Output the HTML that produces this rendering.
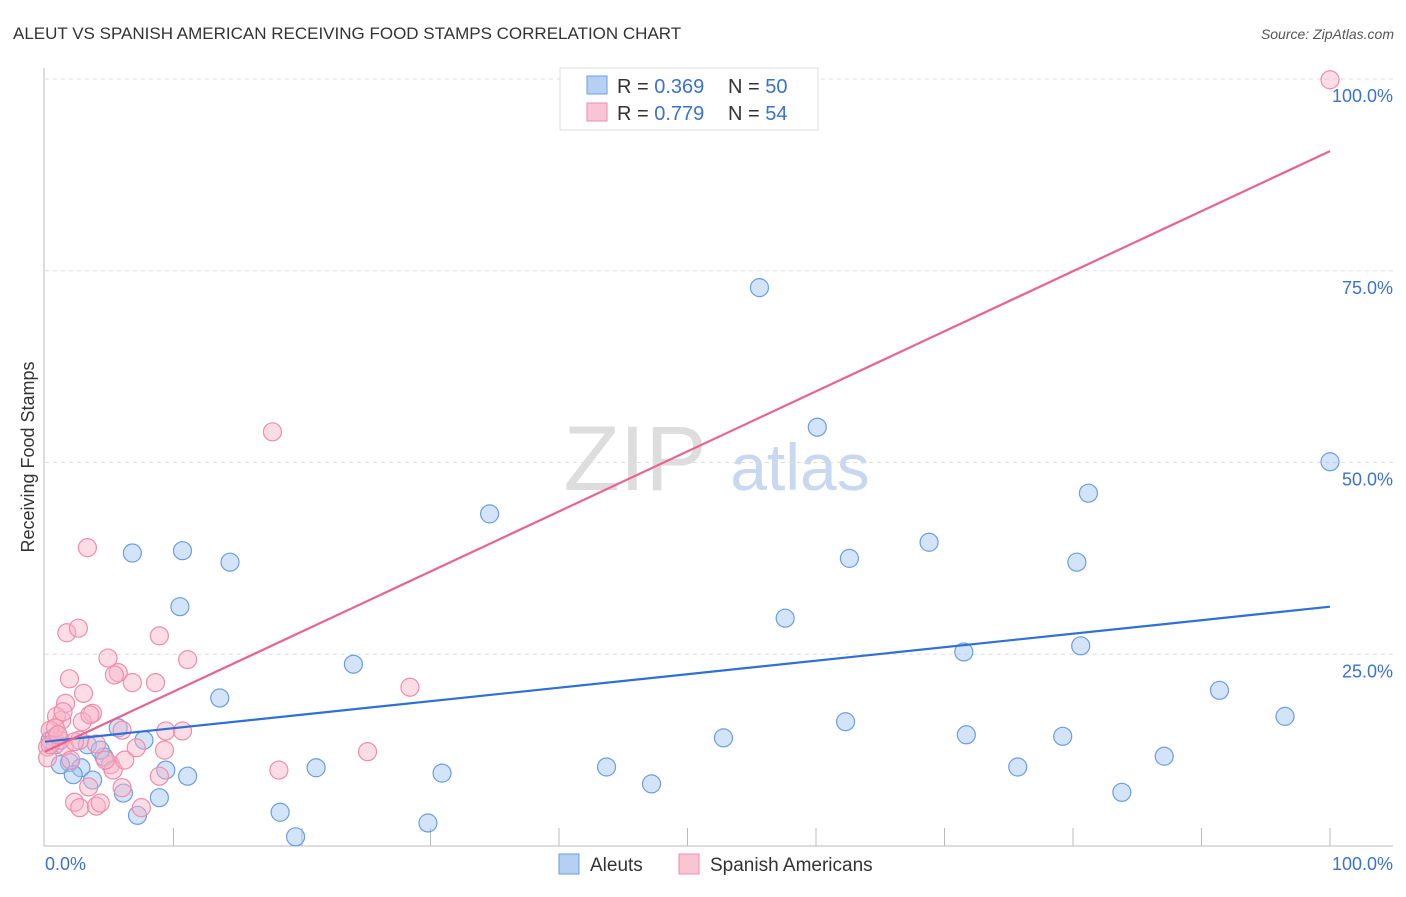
<!DOCTYPE html>
<html><head><meta charset="utf-8"><style>
body{margin:0;background:#fff;font-family:"Liberation Sans",sans-serif}
svg text{font-family:"Liberation Sans",sans-serif}
</style></head><body>
<svg id="c" width="1406" height="892">
<text x="13" y="39" font-size="17" fill="#333">ALEUT VS SPANISH AMERICAN RECEIVING FOOD STAMPS CORRELATION CHART</text>
<text x="1394" y="39" font-size="14" fill="#555" text-anchor="end" font-style="italic">Source: ZipAtlas.com</text>
<text x="0" y="0" font-size="18" fill="#333" transform="translate(34,457) rotate(-90)" text-anchor="middle">Receiving Food Stamps</text>
<text x="635" y="490" font-size="92" fill="#ddd" font-family="Liberation Serif" text-anchor="middle">ZIP</text>
<text x="800" y="490" font-size="66" fill="#c8d8f0" text-anchor="middle">atlas</text>
<g id="grid"></g><g id="marks"></g><g id="lines"></g>
<g>
<rect x="560" y="68" width="258" height="62" fill="#fff" stroke="#ddd"/>
<rect x="587" y="76" width="20" height="18" fill="#b6d0f4" stroke="#6a9ee0"/>
<rect x="587" y="103" width="20" height="18" fill="#f9c4d4" stroke="#f08cac"/>
<text x="617" y="93" font-size="20" fill="#333">R = <tspan fill="#3a72d0">0.369</tspan></text>
<text x="728" y="93" font-size="20" fill="#333">N = <tspan fill="#3a72d0">50</tspan></text>
<text x="617" y="120" font-size="20" fill="#333">R = <tspan fill="#3a72d0">0.779</tspan></text>
<text x="728" y="120" font-size="20" fill="#333">N = <tspan fill="#3a72d0">54</tspan></text>
</g>
<g>
<rect x="559" y="854" width="20" height="20" fill="#b6d0f4" stroke="#6a9ee0"/>
<text x="590" y="871" font-size="19" fill="#333">Aleuts</text>
<rect x="679" y="854" width="20" height="20" fill="#f9c4d4" stroke="#f08cac"/>
<text x="710" y="871" font-size="19" fill="#333">Spanish Americans</text>
</g>
<text x="45" y="870" font-size="18" fill="#3a72d0">0.0%</text>
<text x="1393" y="870" font-size="18" fill="#3a72d0" text-anchor="end">100.0%</text>
</svg>
<script>
const yTicks=[100,75,50,25];
const yTickLabels=["100.0%","75.0%","50.0%","25.0%"];
const aleutX=[0.8,1.9,2.8,2.2,3.7,3.3,4.6,5.7,6.1,7.7,7.2,8.9,9.4,11.1,6.8,10.7,14.4,10.5,13.6,18.3,19.5,21.1,24.0,29.8,30.9,34.6,43.7,47.2,52.8,55.6,57.6,60.1,62.3,62.6,68.8,71.5,71.7,75.7,79.2,80.3,80.6,81.2,83.8,87.1,91.4,96.5,100,0.4,1.2,4.3];
const aleutY=[13.2,10.9,10.2,9.3,8.6,13.2,11.6,15.4,6.9,13.8,4.0,6.3,9.9,9.1,38.2,38.5,37.0,31.2,19.3,4.4,1.2,10.2,23.7,3.0,9.5,43.3,10.3,8.1,14.1,72.8,29.7,54.6,16.2,37.5,39.6,25.3,14.5,10.3,14.3,37.0,26.1,46.0,7.0,11.7,20.3,16.9,50.1,13.8,10.6,12.5];
const spanX=[100,17.7,3.3,1.7,2.6,8.9,4.9,11.1,5.7,6.8,8.6,1.9,3.0,1.6,3.7,28.4,1.3,2.9,0.9,0.4,0.7,0.2,1.5,2.7,4.0,6.0,9.4,10.7,7.1,9.3,5.1,5.3,2.0,0.2,8.9,6.0,3.4,2.3,2.7,4.0,4.3,7.5,18.2,25.1,1.2,0.8,1.4,2.3,4.7,0.4,1.0,5.4,6.2,3.5];
const spanY=[99.9,54.0,38.9,27.8,28.4,27.4,24.5,24.3,22.6,21.3,21.3,21.8,19.9,18.6,17.3,20.7,16.4,16.2,16.9,15.1,14.1,12.9,13.0,13.8,13.3,15.1,15.0,15.0,12.8,12.5,10.6,9.9,11.2,11.5,9.1,7.6,7.7,5.7,5.0,5.2,5.6,5.0,9.9,12.3,13.8,15.4,17.5,13.6,11.2,13.2,14.5,22.3,11.2,17.1];
const aleutLine=[13.6,31.2];
const spanLine=[12.3,90.6];
const NS="http://www.w3.org/2000/svg";
const xs=v=>45+v*12.85, ys=v=>846-v*7.67;
function mk(t,a,p){const e=document.createElementNS(NS,t);for(const k in a)e.setAttribute(k,a[k]);p.appendChild(e);return e;}
const g=document.getElementById('grid');
yTicks.forEach((t,i)=>{
 const l=mk('line',{x1:45,x2:1393,y1:ys(t),y2:ys(t),stroke:'#ddd','stroke-dasharray':'4,4'},g);
 
 
 const tx=mk('text',{x:1393,y:ys(t)+23,'font-size':18,fill:'#3a72d0','text-anchor':'end'},g);tx.textContent=yTickLabels[i];
 
 
});
mk('line',{x1:44,x2:44,y1:68,y2:846,stroke:'#bbb'},g);
mk('line',{x1:44,x2:1393,y1:846,y2:846,stroke:'#bbb'},g);
for(let i=1;i<=10;i++){const t=mk('line',{x1:xs(i*10),x2:xs(i*10),y1:828,y2:846,stroke:'#bbb'},g);
 
 }
const m=document.getElementById('marks');
aleutX.forEach((x,i)=>{const c=mk('circle',{cx:xs(x),cy:ys(aleutY[i]),r:9,fill:'rgba(160,196,240,0.45)',stroke:'#6a9ee0','stroke-width':1.2},m);
 
 });
spanX.forEach((x,i)=>{const c=mk('circle',{cx:xs(x),cy:ys(spanY[i]),r:9,fill:'rgba(248,180,200,0.45)',stroke:'#f08cac','stroke-width':1.2},m);
 
 });
const L=document.getElementById('lines');
const a=mk('line',{x1:xs(0),y1:ys(aleutLine[0]),x2:xs(100),y2:ys(aleutLine[1]),stroke:'#2f6fd6','stroke-width':2.2},L);


const s=mk('line',{x1:xs(0),y1:ys(spanLine[0]),x2:xs(100),y2:ys(spanLine[1]),stroke:'#e8648e','stroke-width':2.2},L);


</script>
</body></html>
